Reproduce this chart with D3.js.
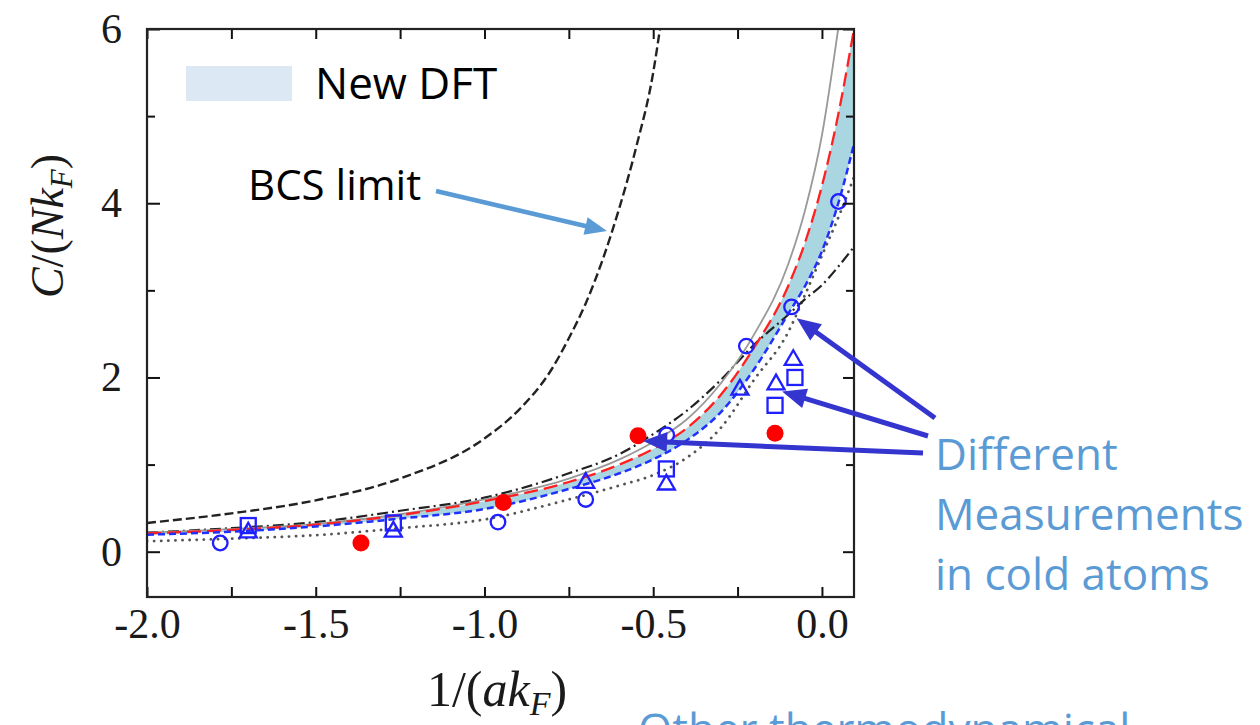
<!DOCTYPE html>
<html><head><meta charset="utf-8">
<script src="https://cdn.jsdelivr.net/npm/d3@7"></script>
<style>body{margin:0;background:#fff}</style>
</head><body><svg id="c" width="1260" height="725"></svg>
<script>
// ---------- data ----------
const xTicks = [-2.0,-1.75,-1.5,-1.25,-1.0,-0.75,-0.5,-0.25,0.0];
const xTickLabels = ["-2.0","","-1.5","","-1.0","","-0.5","","0.0"];
const yTicks = [0,1,2,3,4,5,6];
const yTickLabels = ["0","","2","","4","","6"];

const curveX   = [-2.0,-1.75,-1.5,-1.25,-1.0,-0.75,-0.6,-0.5,-0.4,-0.3,-0.2,-0.1,-0.05,0.0,0.05,0.095];
const dftUpper = [0.21,0.25,0.31,0.42,0.58,0.80,1.00,1.18,1.42,1.80,2.35,3.05,3.55,4.20,5.05,6.00];
const dftLower = [0.195,0.23,0.29,0.38,0.49,0.72,0.90,1.06,1.28,1.60,2.10,2.73,3.05,3.45,4.02,4.68];
const dashDot  = [0.22,0.27,0.34,0.47,0.62,0.90,1.12,1.35,1.62,1.97,2.38,2.72,2.90,3.06,3.28,3.50];
const dotted   = [0.12,0.15,0.19,0.27,0.37,0.60,0.76,0.88,1.08,1.42,1.98,2.52,2.95,3.40,3.85,4.30];

const grayX     = [-2.0,-1.75,-1.5,-1.25,-1.0,-0.75,-0.6,-0.5,-0.4,-0.3,-0.2,-0.1,-0.05,0.0,0.048];
const graySolid = [0.22,0.26,0.32,0.43,0.60,0.84,1.06,1.26,1.52,1.93,2.50,3.30,3.92,4.78,6.00];

const bcsX = [-2.0,-1.75,-1.5,-1.25,-1.0,-0.9,-0.8,-0.75,-0.7,-0.65,-0.6,-0.55,-0.5,-0.48];
const bcsY = [0.33,0.44,0.59,0.84,1.30,1.62,2.10,2.45,2.85,3.35,3.95,4.65,5.50,6.00];

const circlePts   = [[-1.783,0.10],[-0.96,0.34],[-0.70,0.60],[-0.46,1.34],[-0.224,2.36],[-0.09,2.81],[0.049,4.02]];
const squarePts   = [[-1.70,0.30],[-1.27,0.33],[-0.461,0.95],[-0.139,1.68],[-0.080,2.00]];
const trianglePts = [[-1.70,0.22],[-1.27,0.23],[-0.70,0.79],[-0.461,0.77],[-0.243,1.86],[-0.136,1.92],[-0.085,2.20]];
const redPts      = [[-1.366,0.10],[-0.944,0.565],[-0.545,1.33],[-0.139,1.36]];

// arrow tips in data space
const measTips = [[-0.075,2.68],[-0.118,1.84],[-0.53,1.27]];
const measStarts = [[935,418],[928,436],[923,453]];
const bcsTip = [-0.637,3.68];
const bcsStart = [436,191];

// ---------- drawing ----------
const svg = d3.select('#c');
const L = 147, R = 854, T = 29, B = 597;
const x = d3.scaleLinear().domain([-2.0, 0.095]).range([L, R]);
const y = d3.scaleLinear().domain([-0.52, 6]).range([B, T]);

svg.append('defs').append('clipPath').attr('id','clip')
  .append('rect').attr('x',L).attr('y',T).attr('width',R-L).attr('height',B-T);

const plot = svg.append('g').attr('clip-path','url(#clip)');
const idx = curveX.map((d,i)=>i);

plot.append('path')
  .attr('d', d3.area().x(i=>x(curveX[i])).y0(i=>y(dftLower[i])).y1(i=>y(dftUpper[i])).curve(d3.curveMonotoneX)(idx))
  .attr('fill','#a9d6e0');

function drawLine(xs, ys, color, width, dash, cap){
  const ii = xs.map((d,i)=>i);
  plot.append('path')
    .attr('d', d3.line().x(i=>x(xs[i])).y(i=>y(ys[i])).curve(d3.curveMonotoneX)(ii))
    .attr('fill','none').attr('stroke',color).attr('stroke-width',width)
    .attr('stroke-dasharray',dash||null).attr('stroke-linecap',cap||'butt');
}
drawLine(bcsX, bcsY, '#222', 2.4, '9,4');
drawLine(curveX, dotted, '#555', 2.8, '0.1,7', 'round');
drawLine(curveX, dashDot, '#222', 2.2, '11,4,2,4');
drawLine(grayX, graySolid, '#999', 1.8, null);
drawLine(curveX, dftUpper, '#ff2020', 2.3, '14,6');
drawLine(curveX, dftLower, '#2030ff', 2.5, '7,4');

const blue = '#1f1fff';
plot.selectAll('circle.o').data(circlePts).enter().append('circle')
  .attr('cx',d=>x(d[0])).attr('cy',d=>y(d[1])).attr('r',7.3)
  .attr('fill','none').attr('stroke',blue).attr('stroke-width',2.3);
plot.selectAll('rect.s').data(squarePts).enter().append('rect')
  .attr('x',d=>x(d[0])-7.5).attr('y',d=>y(d[1])-7.5).attr('width',15).attr('height',15)
  .attr('fill','none').attr('stroke',blue).attr('stroke-width',2.3);
plot.selectAll('path.t').data(trianglePts).enter().append('path')
  .attr('d', d3.symbol().type(d3.symbolTriangle).size(125))
  .attr('transform',d=>`translate(${x(d[0])},${y(d[1])})`)
  .attr('fill','none').attr('stroke',blue).attr('stroke-width',2.3);
plot.selectAll('circle.r').data(redPts).enter().append('circle')
  .attr('cx',d=>x(d[0])).attr('cy',d=>y(d[1])).attr('r',8.5)
  .attr('fill','#ff0000');

// ---------- axes ----------
function styleAxis(g){
  g.select('.domain').remove();
  g.selectAll('.tick line').attr('stroke','#111').attr('stroke-width',2);
  g.selectAll('.tick text').attr('font-family','"Liberation Serif", serif')
    .attr('font-size',42).attr('fill','#1a1a1a');
}
svg.append('g').attr('transform',`translate(0,${B})`)
  .call(d3.axisBottom(x).tickValues(xTicks).tickSizeInner(-10).tickSizeOuter(0).tickPadding(11)
    .tickFormat((d,i)=>xTickLabels[i])).call(styleAxis);
svg.append('g').attr('transform',`translate(0,${T})`)
  .call(d3.axisTop(x).tickValues(xTicks).tickSizeInner(-10).tickSizeOuter(0).tickFormat(''))
  .call(styleAxis);
const gl = svg.append('g').attr('transform',`translate(${L},0)`)
  .call(d3.axisLeft(y).tickValues(yTicks).tickSizeInner(-12).tickSizeOuter(0).tickPadding(25)
    .tickFormat((d,i)=>yTickLabels[i])).call(styleAxis);
gl.selectAll('.tick line').attr('x2',d=>d%2===0?13:8);
const gr = svg.append('g').attr('transform',`translate(${R},0)`)
  .call(d3.axisRight(y).tickValues(yTicks).tickSizeInner(-12).tickSizeOuter(0).tickFormat(''))
  .call(styleAxis);
gr.selectAll('.tick line').attr('x2',d=>d%2===0?-11:-8);

svg.append('rect').attr('x',L).attr('y',T).attr('width',R-L).attr('height',B-T)
  .attr('fill','none').attr('stroke','#222').attr('stroke-width',2.2);

// axis titles
const serif = '"Liberation Serif", "DejaVu Serif", serif';
const xt = svg.append('text').attr('x',497).attr('y',706).attr('text-anchor','middle')
  .attr('font-family',serif).attr('font-size',50).attr('fill','#1a1a1a');
xt.append('tspan').text('1/(');
xt.append('tspan').attr('font-style','italic').text('ak');
xt.append('tspan').attr('font-style','italic').attr('font-size',34).attr('dy',9).text('F');
xt.append('tspan').attr('dy',-9).text(')');

const yt = svg.append('text').attr('transform','translate(63,226) rotate(-90)').attr('text-anchor','middle')
  .attr('font-family',serif).attr('font-size',46).attr('fill','#1a1a1a');
yt.append('tspan').attr('font-style','italic').text('C');
yt.append('tspan').text('/(');
yt.append('tspan').attr('font-style','italic').text('Nk');
yt.append('tspan').attr('font-style','italic').attr('font-size',31).attr('dy',9).text('F');
yt.append('tspan').attr('dy',-9).text(')');

// ---------- annotations ----------
const sans = '"Open Sans", "Noto Sans", sans-serif';
svg.append('rect').attr('x',186).attr('y',66).attr('width',106).attr('height',35).attr('fill','#dce9f5');
svg.append('text').attr('x',315).attr('y',99).attr('font-family',sans).attr('font-size',44).attr('fill','#000').text('New DFT');
svg.append('text').attr('x',248).attr('y',200).attr('font-family',sans).attr('font-size',42).attr('fill','#000').text('BCS limit');

const lblue = '#5b9bd5';
[['Different',470],['Measurements',530],['in cold atoms',590]].forEach(([t,yy])=>{
  svg.append('text').attr('x',935).attr('y',yy).attr('font-family',sans).attr('font-size',44).attr('fill',lblue).text(t);
});
svg.append('text').attr('x',638).attr('y',745).attr('font-family',sans).attr('font-size',44).attr('fill',lblue).text('Other thermodynamical');

function arrow(x1,y1,x2,y2,color,w,hl,hw){
  const a = Math.atan2(y2-y1,x2-x1);
  const bx = x2 - hl*Math.cos(a), by = y2 - hl*Math.sin(a);
  svg.append('line').attr('x1',x1).attr('y1',y1).attr('x2',bx+2*Math.cos(a)).attr('y2',by+2*Math.sin(a))
    .attr('stroke',color).attr('stroke-width',w);
  const px = -Math.sin(a)*hw/2, py = Math.cos(a)*hw/2;
  svg.append('path').attr('d',`M${x2},${y2}L${bx+px},${by+py}L${bx-px},${by-py}Z`).attr('fill',color);
}
measTips.forEach((t,i)=>arrow(measStarts[i][0],measStarts[i][1],x(t[0]),y(t[1]),'#3434cf',5,24,20));
arrow(bcsStart[0],bcsStart[1],x(bcsTip[0]),y(bcsTip[1]),lblue,4.5,22,18);
</script></body></html>
